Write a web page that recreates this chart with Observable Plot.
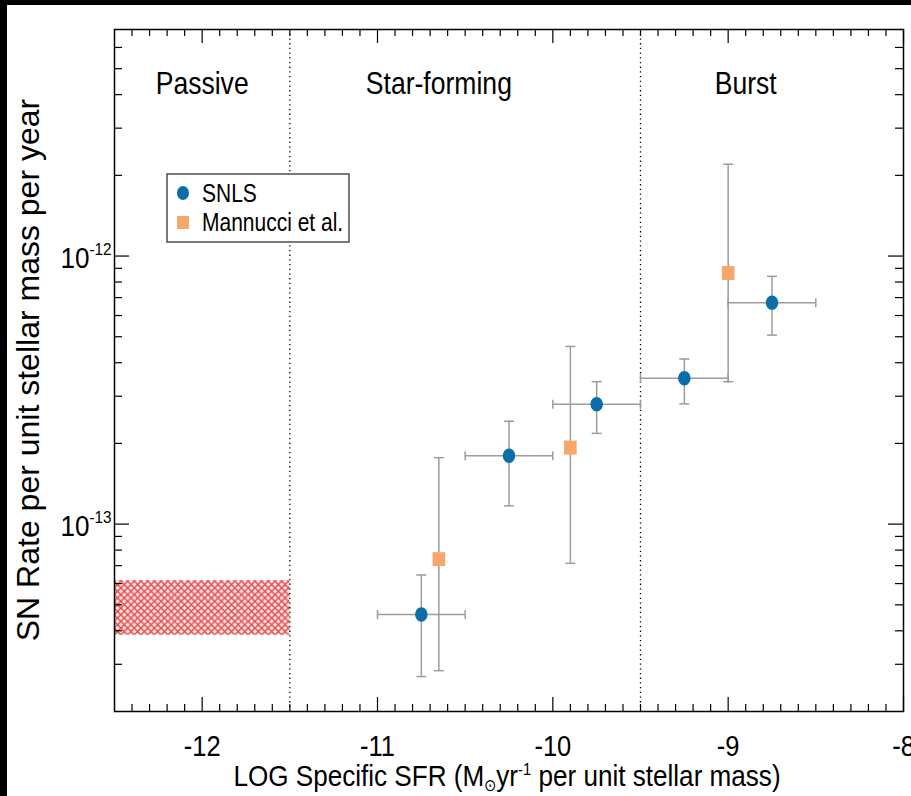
<!DOCTYPE html>
<html>
<head>
<meta charset="utf-8">
<script src="https://cdn.jsdelivr.net/npm/d3@7"></script>
<script src="https://cdn.jsdelivr.net/npm/@observablehq/plot@0.6"></script>
<style>
  html, body { margin: 0; padding: 0; background: #fff; }
  #wrap { position: relative; width: 911px; height: 796px; background: #000; overflow: hidden; }
  #chart { position: absolute; left: 7px; top: 5px; width: 904px; height: 791px; background: #fff; }
</style>
</head>
<body>
<div id="wrap"><div id="chart"></div></div>
<script>
// ---- data ----
const snlsSSFR   = [-10.75, -10.25, -9.75, -9.25, -8.75];
const snlsSSFRLo = [-11.0, -10.5, -10.0, -9.5, -9.0];
const snlsSSFRHi = [-10.5, -10.0, -9.5, -9.0, -8.5];
const snlsRate   = [4.6e-14, 1.8e-13, 2.8e-13, 3.5e-13, 6.7e-13];
const snlsRateLo = [2.7e-14, 1.17e-13, 2.18e-13, 2.81e-13, 5.07e-13];
const snlsRateHi = [6.46e-14, 2.42e-13, 3.4e-13, 4.13e-13, 8.4e-13];

const mannSSFR   = [-10.65, -9.9, -9.0];
const mannRate   = [7.4e-14, 1.93e-13, 8.64e-13];
const mannRateLo = [2.84e-14, 7.14e-14, 3.4e-13];
const mannRateHi = [1.77e-13, 4.6e-13, 2.2e-12];

const passiveSSFR = [-12.5, -11.5];
const passiveRate = [3.85e-14, 6.15e-14];

const dividers = [-11.5, -9.5];
const regionNames = ["Passive", "Star-forming", "Burst"];
const regionX = [-12.0, -10.65, -8.9];

const xMajorTicks = [-12, -11, -10, -9, -8];
const xTickLabels = ["-12", "-11", "-10", "-9", "-8"];
const yMajorTicks = [1e-12, 1e-13];
const yTickSup = ["-12", "-13"];
const seriesNames = ["SNLS", "Mannucci et al."];
const seriesColors = ["#0b6ea8", "#f8a76a"];

// ---- derived tables ----
const snls = snlsSSFR.map((x, i) => ({x, xlo: snlsSSFRLo[i], xhi: snlsSSFRHi[i], y: snlsRate[i], lo: snlsRateLo[i], hi: snlsRateHi[i]}));
const mann = mannSSFR.map((x, i) => ({x, y: mannRate[i], lo: mannRateLo[i], hi: mannRateHi[i]}));
const band = [{x1: passiveSSFR[0], x2: passiveSSFR[1], y1: passiveRate[0], y2: passiveRate[1]}];
const regions = regionNames.map((name, i) => ({name, x: regionX[i]}));
const xLabels = xMajorTicks.map((x, i) => ({x, label: xTickLabels[i]}));
const yLabels = yMajorTicks.map((y, i) => ({y, sup: yTickSup[i]}));

const xDomain = [-12.5, -8], yDomain = [2e-14, 7e-12];
const xMinor = d3.range(-124, -80).filter(i => i % 10 !== 0).map(i => i / 10);
const yMinor = [];
for (const e of [-14, -13, -12]) for (let m = 2; m <= 9; m++) {
  const v = m * Math.pow(10, e);
  if (v > yDomain[0] * 1.01 && v < yDomain[1] * 0.99) yMinor.push(v);
}

const W = 904, H = 791, mL = 107, mR = 8, mT = 24, mB = 85;
const fW = W - mL - mR, fH = H - mT - mB;
const FONT = "'Liberation Sans', Arial, Helvetica, sans-serif";
const errColor = "#9c9c9c";

const ellipse = {draw(ctx) { const rx = 6.2, ry = 7.2, k = 0.5523;
  ctx.moveTo(rx, 0);
  ctx.bezierCurveTo(rx, ry * k, rx * k, ry, 0, ry);
  ctx.bezierCurveTo(-rx * k, ry, -rx, ry * k, -rx, 0);
  ctx.bezierCurveTo(-rx, -ry * k, -rx * k, -ry, 0, -ry);
  ctx.bezierCurveTo(rx * k, -ry, rx, -ry * k, rx, 0);
  ctx.closePath(); }};
const square = {draw(ctx) { ctx.rect(-6.3, -7, 12.6, 14); }};
const hcap = {draw(ctx) { ctx.moveTo(-5, 0); ctx.lineTo(5, 0); }};
const vcap = {draw(ctx) { ctx.moveTo(0, -4.5); ctx.lineTo(0, 4.5); }};

const plot = Plot.plot({
  width: W, height: H, marginLeft: mL, marginRight: mR, marginTop: mT, marginBottom: mB,
  x: {domain: xDomain, axis: null},
  y: {type: "log", domain: yDomain, axis: null},
  style: {fontFamily: FONT, background: "white", overflow: "visible", color: "black"},
  marks: [
    Plot.rect(band, {x1: "x1", x2: "x2", y1: "y1", y2: "y2", fill: "url(#xhatch)"}),
    Plot.ruleX(dividers, {stroke: "black", strokeWidth: 1.3, strokeDasharray: "1.3,3.4"}),
    // ticks (inward, all four sides)
    Plot.ruleX(xMinor, {insetTop: fH - 7, stroke: "black", strokeWidth: 1.2}),
    Plot.ruleX(xMinor, {insetBottom: fH - 7, stroke: "black", strokeWidth: 1.2}),
    Plot.ruleX(xMajorTicks, {insetTop: fH - 14, stroke: "black", strokeWidth: 1.2}),
    Plot.ruleX(xMajorTicks, {insetBottom: fH - 14, stroke: "black", strokeWidth: 1.2}),
    Plot.ruleY(yMinor, {insetRight: fW - 8, stroke: "black", strokeWidth: 1.2}),
    Plot.ruleY(yMinor, {insetLeft: fW - 8, stroke: "black", strokeWidth: 1.2}),
    Plot.ruleY(yMajorTicks, {insetRight: fW - 15, stroke: "black", strokeWidth: 1.2}),
    Plot.ruleY(yMajorTicks, {insetLeft: fW - 15, stroke: "black", strokeWidth: 1.2}),
    // error bars
    Plot.ruleX(snls, {x: "x", y1: "lo", y2: "hi", stroke: errColor, strokeWidth: 1.5}),
    Plot.ruleY(snls, {y: "y", x1: "xlo", x2: "xhi", stroke: errColor, strokeWidth: 1.5}),
    Plot.dot(snls, {x: "x", y: "lo", symbol: hcap, stroke: errColor, strokeWidth: 1.5, fill: "none"}),
    Plot.dot(snls, {x: "x", y: "hi", symbol: hcap, stroke: errColor, strokeWidth: 1.5, fill: "none"}),
    Plot.dot(snls, {x: "xlo", y: "y", symbol: vcap, stroke: errColor, strokeWidth: 1.5, fill: "none"}),
    Plot.dot(snls, {x: "xhi", y: "y", symbol: vcap, stroke: errColor, strokeWidth: 1.5, fill: "none"}),
    Plot.ruleX(mann, {x: "x", y1: "lo", y2: "hi", stroke: errColor, strokeWidth: 1.5}),
    Plot.dot(mann, {x: "x", y: "lo", symbol: hcap, stroke: errColor, strokeWidth: 1.5, fill: "none"}),
    Plot.dot(mann, {x: "x", y: "hi", symbol: hcap, stroke: errColor, strokeWidth: 1.5, fill: "none"}),
    // markers
    Plot.dot(snls, {x: "x", y: "y", symbol: ellipse, fill: seriesColors[0], stroke: "none", r: 7}),
    Plot.dot(mann, {x: "x", y: "y", symbol: square, fill: seriesColors[1], stroke: "none", r: 7}),
    // text
    Plot.text(regions, {x: "x", text: "name", frameAnchor: "top", lineAnchor: "middle", dy: 54, fontSize: 32, fill: "black"}),
    Plot.text(xLabels, {x: "x", text: "label", frameAnchor: "bottom", lineAnchor: "middle", dy: 35, fontSize: 30, fill: "black"}),
    Plot.text(yLabels, {y: "y", text: () => "10", frameAnchor: "left", lineAnchor: "middle", textAnchor: "end", dx: -25, dy: 3, fontSize: 29, fill: "black"}),
    Plot.text(yLabels, {y: "y", text: "sup", frameAnchor: "left", lineAnchor: "middle", textAnchor: "start", dx: -25, dy: -7, fontSize: 17, fill: "black"}),
    Plot.frame({stroke: "black", strokeWidth: 1.5})
  ]
});
document.getElementById("chart").appendChild(plot);

const svg = d3.select(plot);

// horizontally condensed lettering, as in the reference (vertical offsets kept)
function squeeze(el, s) {
  const t = d3.select(el);
  const xa = t.attr("x");
  const x = xa != null && isFinite(+xa) ? +xa : 0;
  if (xa != null && isFinite(+xa)) t.attr("x", null);
  const tr = t.attr("transform") || "";
  t.attr("transform", `${tr} translate(${x},0) scale(${s},1)`);
}
svg.selectAll("text").each(function () {
  const fs = parseFloat(getComputedStyle(this).fontSize);
  if (fs >= 31.5) squeeze(this, 0.83);        // region labels
  else if (fs >= 29.5) squeeze(this, 0.85);   // x tick labels
  else squeeze(this, 0.9);                    // y tick labels and exponents
});

// hatch pattern
const defs = svg.insert("defs", ":first-child");
const P = 6.7;
const pat = defs.append("pattern").attr("id", "xhatch").attr("patternUnits", "userSpaceOnUse")
  .attr("width", P).attr("height", P);
pat.append("rect").attr("width", P).attr("height", P).attr("fill", "#fbe3e3");
pat.append("path").attr("d", `M0,0L${P},${P}M0,${P}L${P},0`)
  .attr("stroke", "#e04a4a").attr("stroke-width", 1.4).attr("fill", "none");

// axis titles
svg.append("text")
  .attr("transform", `translate(21,365) rotate(-90)`)
  .attr("text-anchor", "middle").attr("dominant-baseline", "central")
  .attr("font-family", FONT).attr("font-size", 32).attr("fill", "black")
  .text("SN Rate per unit stellar mass per year");

const xt = svg.append("text").attr("transform", "translate(500,781) scale(0.87,1)").attr("text-anchor", "middle")
  .attr("font-family", FONT).attr("font-size", 30).attr("fill", "black");
xt.append("tspan").text("LOG Specific SFR (M");
xt.append("tspan").attr("dy", 5).attr("font-size", 17).text("\u2299");
xt.append("tspan").attr("dy", -5).text("yr");
xt.append("tspan").attr("dy", -11).attr("font-size", 17).text("-1");
xt.append("tspan").attr("dy", 11).text(" per unit stellar mass)");

// legend
const lg = svg.append("g").attr("transform", "translate(160,169)");
lg.append("rect").attr("width", 182).attr("height", 68).attr("fill", "white").attr("stroke", "#333").attr("stroke-width", 1.3);
lg.append("path").attr("d", d3.symbol(d3.symbolCircle, Math.PI * 40)).attr("transform", "translate(16,19) scale(0.95,1.1)").attr("fill", seriesColors[0]);
lg.append("rect").attr("x", 10).attr("y", 42).attr("width", 12).attr("height", 13).attr("fill", seriesColors[1]);
seriesNames.forEach((n, i) => {
  lg.append("text").attr("transform", `translate(35,${19 + i * 29}) scale(0.84,1)`)
    .attr("text-anchor", "start").attr("dominant-baseline", "central")
    .attr("font-family", FONT).attr("font-size", 25).attr("fill", "black").text(n);
});
</script>
</body>
</html>
